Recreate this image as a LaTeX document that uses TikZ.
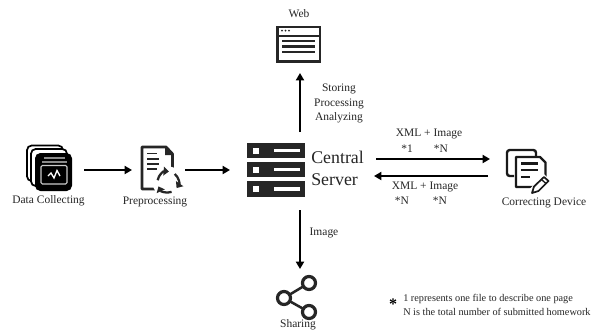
\documentclass[tikz,border=0pt]{standalone}
\usepackage{fontspec}
\setmainfont{Liberation Serif}
\usetikzlibrary{arrows.meta}
\tikzset{
  lbl/.style={inner sep=0pt,font=\fontsize{8.6}{10}\selectfont,text=black!85},
  note/.style={inner sep=0pt,anchor=west,font=\fontsize{7.7}{8}\selectfont,text=black!85},
  big/.style={inner sep=0pt,anchor=base west,font=\fontsize{13.4}{16}\selectfont,text=black!85},
  flow/.style={line width=1.4pt,-{Triangle[length=5.5pt,width=6pt]}},
  icon/.style={inner sep=0pt,draw=none},
  cyc/.style={line width=1.7pt,draw=black!85,-{Triangle[length=4pt,width=6.5pt]}}
}
\begin{document}
\begin{tikzpicture}[x=0.75pt,y=-0.75pt]
\useasboundingbox[fill=white] (0,0) rectangle (594,330);

% anchors of the icons
\node[icon,minimum width=34.5pt,minimum height=34.5pt] (data) at (49.5,168) {};
\node[icon,minimum width=24pt,minimum height=33pt] (pre) at (157,168) {};
\node[icon,minimum width=43.5pt,minimum height=40.5pt] (srv) at (276,170) {};
\node[icon,minimum width=33pt,minimum height=27pt] (web) at (299,44) {};
\node[icon,minimum width=33pt,minimum height=33pt] (cor) at (527,171) {};
\node[icon,minimum width=30pt,minimum height=30pt] (sha) at (297,298) {};

\coordinate (a1) at (84,170); \coordinate (a2) at (132,170);
\coordinate (b1) at (185,170); \coordinate (b2) at (230,170);
\coordinate (c1) at (300,132); \coordinate (c2) at (300,73);
\coordinate (d1) at (300,210); \coordinate (d2) at (300,269);
\coordinate (e1) at (376,159); \coordinate (e2) at (490,159);
\coordinate (f1) at (488,176); \coordinate (f2) at (374,176);

% Data Collecting
\draw[black,fill=white,line width=1.3pt,rounded corners=3.5pt] (27,145.5) rectangle (63,181);
\draw[black,fill=white,line width=1.3pt,rounded corners=3.5pt] (31,149) rectangle (67,186);
\fill[black,rounded corners=4pt] (35,153) rectangle (72,191);
\draw[black!45,line width=1pt] (44,158) -- (65,158);
\draw[black!45,line width=1pt] (42,162) -- (67,162);
\draw[black!20,line width=.8pt,rounded corners=1pt] (41,165.5) rectangle (67,184);
\draw[white,line width=1pt] (48,176) -- (51,173) -- (54,178) -- (57,170.5) -- (60,176);

% Preprocessing
\draw[black!85,line width=2.1pt,line join=round] (142,147) -- (166,147) -- (172.5,154) -- (172.5,189) -- (142,189) -- cycle;
\fill[black!85] (165,146) -- (173.5,155) -- (165,155) -- cycle;
\foreach \yy/\xx in {153.5/157,159/159,164/159,169/157} \draw[black!85,line width=1.2pt] (147,\yy) -- (\xx,\yy);
\fill[white] (168,182) circle (15.5);
\draw[cyc] (168,182)++(-170:10.5) arc[start angle=-170,end angle=-85,radius=10.5];
\draw[cyc] (168,182)++(-50:10.5) arc[start angle=-50,end angle=35,radius=10.5];
\draw[cyc] (168,182)++(70:10.5) arc[start angle=70,end angle=155,radius=10.5];

% Central Server
\foreach \ya/\yb in {143/158,162/177,181/197}{
  \fill[black!85] (247,\ya) rectangle (305,\yb);
  \fill[white] (252.5,{(\ya+\yb)/2-3}) rectangle (258.5,{(\ya+\yb)/2+3});
  \fill[white] (273.5,{(\ya+\yb)/2-1.7}) rectangle (300,{(\ya+\yb)/2+1.7});
}
\node[big] (central) at (311,163) {Central};
\node[big] (server) at (311,185) {Server};

% Web
\draw[black!85,line width=2pt] (277.5,27) rectangle (320,61.5);
\fill[black!85] (277.5,34.5) rectangle (320,37);
\fill[black!85] (282,30.5) circle (1) (285.5,30.5) circle (1) (289,30.5) circle (1);
\foreach \yy in {41,46.5,52} \draw[black!85,line width=1.7pt] (282,\yy) -- (315,\yy);

% Correcting Device
\draw[black!90,line width=1.8pt,line join=round,rounded corners=2pt] (514,176) -- (507,176) -- (507,150) -- (536,150) -- (536,157);
\draw[black!90,fill=white,line width=1.8pt,line join=round] (516,157) -- (540,157) -- (545.5,162.5) -- (545.5,176) -- (536,187) -- (516,187) -- cycle;
\foreach \yy/\xx in {163.5/538,170/538,177/530} \draw[black!90,line width=1.7pt] (521,\yy) -- (\xx,\yy);
\draw[white,line width=3.5pt] (531,191) -- (546,176);
\draw[black!90,line width=1.3pt,line join=round] (532,193) -- (534,186.5) -- (544,177) -- (548.5,181) -- (538.5,191) -- cycle;
\draw[black!90,line width=1pt] (541.5,179.5) -- (546,183.5);

% Sharing
\coordinate (s1) at (309,283); \coordinate (s2) at (284,298); \coordinate (s3) at (309,312);
\draw[black!85,line width=1.9pt] (s1) -- (s2) -- (s3);
\draw[black!85,fill=white,line width=2.4pt] (s1) circle (6.5) (s2) circle (6.5) (s3) circle (6.5);

% connectors
\draw[flow] (a1) -- (a2);
\draw[flow] (b1) -- (b2);
\draw[flow] (c1) -- (c2);
\draw[flow] (d1) -- (d2);
\draw[flow] (e1) -- (e2);
\draw[flow] (f1) -- (f2);

% labels
\node[lbl] (tdata) at (48.5,201) {Data Collecting};
\node[lbl] (tpre) at (155,202) {Preprocessing};
\node[lbl] (tweb) at (299,14) {Web};
\node[lbl] (t1) at (339,89) {Storing};
\node[lbl] (t2) at (339,104) {Processing};
\node[lbl] (t3) at (339,118) {Analyzing};
\node[lbl] (u1) at (429,134) {XML + Image};
\node[lbl] (u2) at (407,149) {*1};
\node[lbl] (u3) at (441,149) {*N};
\node[lbl] (v1) at (425,187) {XML + Image};
\node[lbl] (v2) at (402,201) {*N};
\node[lbl] (v3) at (440,201) {*N};
\node[lbl] (tcor) at (544,203) {Correcting Device};
\node[lbl] (timg) at (324,233) {Image};
\node[lbl] (tsha) at (298,325) {Sharing};
\node[inner sep=0pt,font=\fontsize{12}{12}\bfseries\selectfont] (star) at (393,304.5) {*};
\node[note] (n1) at (403,298.5) {1 represents one file to describe one page};
\node[note] (n2) at (403,311.5) {N is the total number of submitted homework};
\end{tikzpicture}
\end{document}
